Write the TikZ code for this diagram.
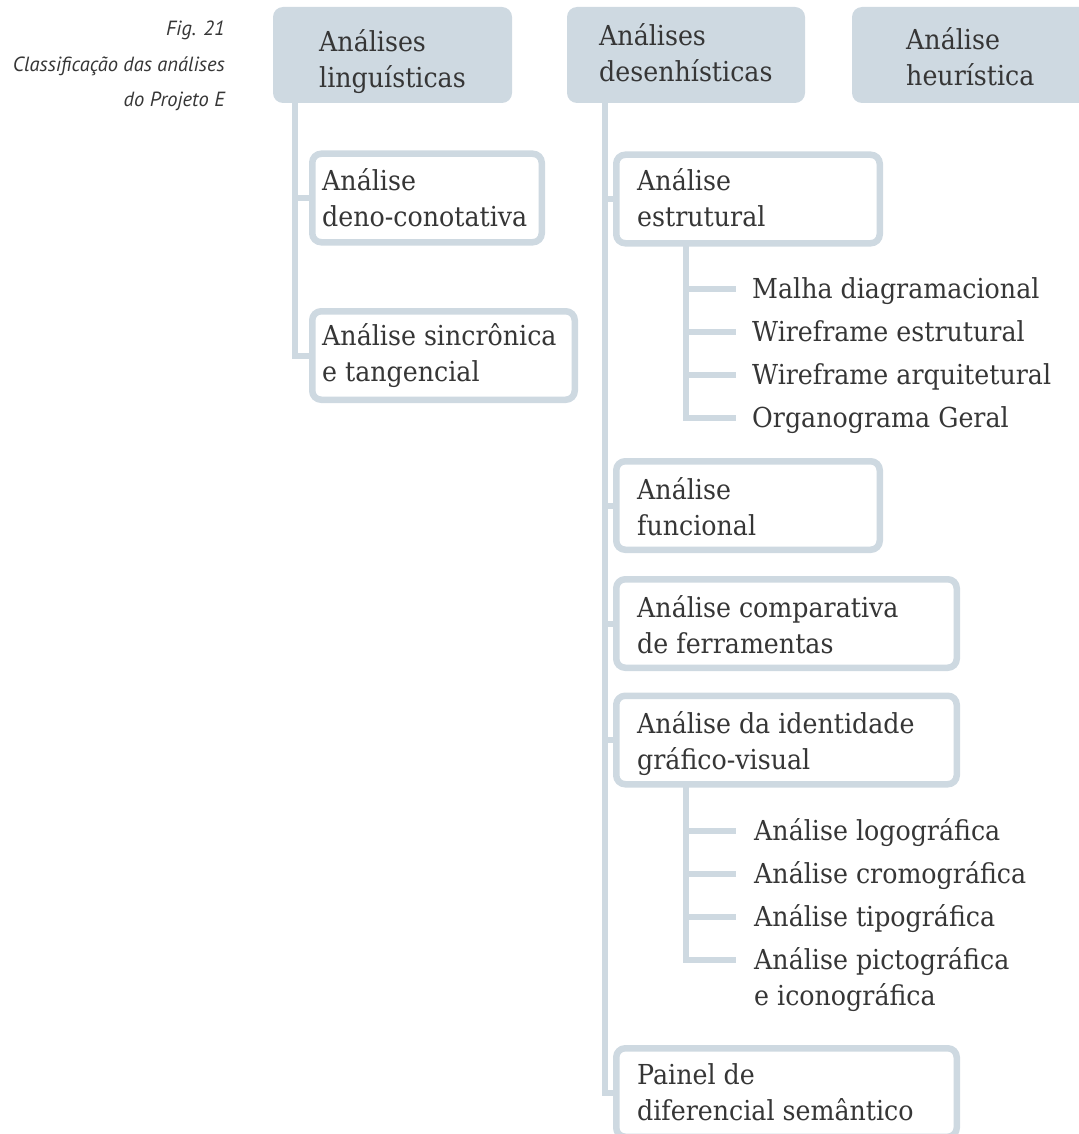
\documentclass[tikz,border=0pt]{standalone}
\usepackage{fontspec}
\setmainfont{DejaVu Serif}[FakeStretch=0.92]
\newfontfamily\capfont{PT Sans}
\usetikzlibrary{backgrounds}
\definecolor{boxc}{HTML}{CED9E1}
\definecolor{ink}{HTML}{363636}
\begin{document}
\begin{tikzpicture}[x=1pt,y=-1pt,
  head/.style={fill=boxc, draw=none, rounded corners=10pt, inner sep=0pt,
    minimum height=96pt},
  card/.style={draw=boxc, line width=6.5pt, fill=white, rounded corners=9pt,
    inner sep=0pt, minimum height=88.5pt},
  link/.style={draw=boxc, line width=6pt},
  % multi-line texts are placed by the baseline of their last line
  txt/.style={anchor=base west, inner sep=0pt, text=ink, align=left,
    font=\fontsize{27.5}{36}\selectfont},
  captext/.style={anchor=base east, inner sep=0pt, text=ink, align=right,
    font=\capfont\itshape\fontsize{20.5}{35.5}\selectfont}]

\useasboundingbox (0,0) rectangle (1078,1134);

% caption
\node[captext] (caption) at (225,107) {Fig. 21\\Classificação das análises\\do Projeto E};

% top-level categories
\node[head, minimum width=239pt] (h1) at (392.5,55) {};
\node[head, minimum width=238pt] (h2) at (686,55) {};
\node[head, minimum width=238pt] (h3) at (971,55) {};
\node[txt] (h1t) at (319,88) {Análises\\linguísticas};
\node[txt] (h2t) at (599,82) {Análises\\desenhísticas};
\node[txt] (h3t) at (906,86) {Análise\\heurística};

% linguistic analyses
\node[card, minimum width=229.5pt] (deno) at (427,198) {};
\node[card, minimum width=262.5pt] (sincr) at (443.5,355.5) {};
\node[txt] (denot) at (322,226) {Análise\\deno-conotativa};
\node[txt] (sincrt) at (322,381) {Análise sincrônica\\e tangencial};

% design analyses
\node[card, minimum width=263.5pt] (estr) at (748,199) {};
\node[card, minimum width=263.5pt] (func) at (748,505.5) {};
\node[card, minimum width=340.5pt] (comp) at (786.5,623.5) {};
\node[card, minimum width=340.5pt] (iden) at (786.5,740) {};
\node[card, minimum width=340.5pt] (pain) at (786.5,1092.5) {};
\node[txt] (estrt) at (637,226) {Análise\\estrutural};
\node[txt] (funct) at (637,535) {Análise\\funcional};
\node[txt] (compt) at (637,653) {Análise comparativa\\de ferramentas};
\node[txt] (ident) at (637,769) {Análise da identidade\\gráfico-visual};
\node[txt] (paint) at (637,1120) {Painel de\\diferencial semântico};

% sub-items of the structural analysis
\node[txt] (a1t) at (752,298) {Malha diagramacional};
\node[txt] (a2t) at (752,341) {Wireframe estrutural};
\node[txt] (a3t) at (752,384) {Wireframe arquitetural};
\node[txt] (a4t) at (752,427) {Organograma Geral};

% sub-items of the visual identity analysis
\node[txt] (b1t) at (754,840) {Análise logográfica};
\node[txt] (b2t) at (754,883) {Análise cromográfica};
\node[txt] (b3t) at (754,926) {Análise tipográfica};
\node[txt] (b4t) at (754,1005) {Análise pictográfica\\e iconográfica};

% trunk and branch end points
\coordinate (tL) at (295,100);
\coordinate (tR) at (605,100);
\coordinate (sA) at (686,240);
\coordinate (sB) at (686,780);
\coordinate (a1) at (736,289);
\coordinate (a2) at (736,332);
\coordinate (a3) at (736,375);
\coordinate (a4) at (736,418);
\coordinate (b1) at (736,831);
\coordinate (b2) at (736,874);
\coordinate (b3) at (736,917);
\coordinate (b4) at (736,960);

\begin{scope}[on background layer]
  \draw[link] (tL) |- (deno.west);
  \draw[link] (tL) |- (sincr.west);
  \foreach \n in {estr,func,comp,iden,pain}
    \draw[link] (tR) |- (\n.west);
  \foreach \n in {a1,a2,a3,a4}
    \draw[link] (sA) |- (\n);
  \foreach \n in {b1,b2,b3,b4}
    \draw[link] (sB) |- (\n);
\end{scope}
\end{tikzpicture}
\end{document}
